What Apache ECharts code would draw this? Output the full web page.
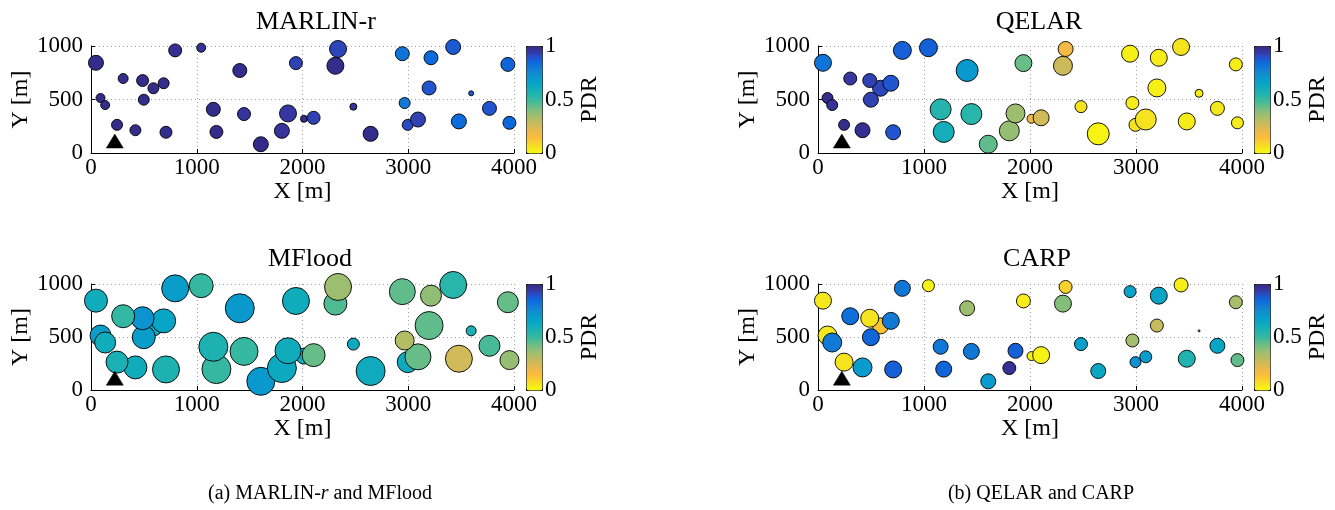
<!DOCTYPE html>
<html>
<head>
<meta charset="utf-8">
<script src="https://cdn.jsdelivr.net/npm/echarts@6/dist/echarts.min.js"></script>
<style>
html,body{margin:0;padding:0;background:#fff;}
#c{width:1335px;height:510px;}
</style>
</head>
<body>
<div id="c"></div>
<script>
// Node positions (m)
const nodeX = [1606,2644,709,1186,1805,420,246,2995,3957,3479,3092,2014,2105,1447,1863,1157,3768,2481,90,134,2966,590,499,3595,3197,687,488,304,1407,2311,3942,1938,47,3215,2944,796,2336,1042,3425];
const nodeY = [82,179,194,197,207,213,263,263,282,295,313,320,329,364,370,408,417,433,514,448,467,605,498,558,608,652,677,696,771,815,828,840,843,890,928,959,972,984,991];
// Marker sizes (px) and PDR per protocol
const marlinSize = [15,15,12,13,15,11,11,11,13,15,15,7,13,13,17,14,14,7,9,9,11,11,11,5,14,11,12,10,14,17,14,13,15,14,14,13,17,9,15];
const marlinPDR  = [1.00,0.99,0.99,0.99,0.96,0.99,0.99,0.91,0.85,0.84,0.93,0.99,0.93,0.96,0.95,0.99,0.89,0.96,0.99,0.99,0.80,0.99,0.99,0.88,0.89,0.99,0.99,0.99,0.99,0.99,0.86,0.93,0.99,0.85,0.82,0.98,0.92,0.97,0.88];
const mfloodSize = [28,29,27,29,29,23,22,21,19,27,26,16,23,28,26,29,21,12,21,21,19,20,23,10,28,24,23,23,29,23,21,27,23,21,26,27,27,24,27];
const mfloodPDR  = [0.70,0.62,0.57,0.51,0.63,0.61,0.58,0.62,0.37,0.26,0.44,0.61,0.44,0.51,0.61,0.57,0.48,0.63,0.68,0.61,0.32,0.61,0.68,0.58,0.45,0.65,0.72,0.51,0.70,0.47,0.44,0.61,0.61,0.38,0.45,0.68,0.36,0.51,0.54];
const qelarSize  = [18,22,15,21,20,15,11,13,12,17,21,9,16,21,19,21,14,12,11,11,13,16,15,8,18,16,14,13,22,19,13,17,17,17,17,18,15,18,17];
const qelarPDR   = [0.45,0.02,0.89,0.60,0.37,0.98,0.99,0.06,0.04,0.04,0.06,0.18,0.26,0.54,0.36,0.55,0.05,0.06,0.99,0.97,0.04,0.92,0.93,0.04,0.03,0.89,0.93,0.95,0.70,0.27,0.04,0.44,0.82,0.04,0.03,0.87,0.18,0.87,0.06];
const carpSize   = [15,15,17,16,13,19,18,11,13,17,12,9,17,16,15,15,15,13,19,19,13,16,17,2,13,17,18,17,15,17,13,14,17,17,12,16,13,12,14];
const carpPDR    = [0.69,0.64,0.87,0.86,0.97,0.69,0.06,0.73,0.45,0.56,0.69,0.04,0.02,0.81,0.87,0.81,0.65,0.67,0.05,0.80,0.35,0.13,0.86,0.50,0.28,0.80,0.06,0.83,0.36,0.40,0.34,0.04,0.05,0.66,0.66,0.81,0.10,0.02,0.03];
// Sink position
const sink = [225, 112];
const panelTitles = ['MARLIN-r','MFlood','QELAR','CARP'];
const xTicks = {min:0, max:4000, interval:1000};
const yTicks = {min:0, max:1000, interval:500};
const pdrTicks = {min:0, max:1, interval:0.5};

// Reversed parula (PDR 0 -> yellow, PDR 1 -> dark blue), step 0.05
const parulaRev = ['#f9fb0e','#f5e81c','#f8d12c','#fcbc3c','#ecb94a','#d6b955','#bdbc62','#a3be6c','#83be7b','#60bd8b','#38b99e','#24b4ad','#14adb9','#07a6c6','#0a99cd','#118bd2','#127ad6','#0a6adc','#2650cc','#3637a0','#352a87'];

const FONT = 'Liberation Serif';
const plain = (v)=>String(v);
const sizes = [marlinSize, mfloodSize, qelarSize, carpSize];
const pdrs = [marlinPDR, mfloodPDR, qelarPDR, carpPDR];
const panels = [
  {left:91, top:46, width:423, height:107, tx:311, ty:4},
  {left:91, top:284, width:423, height:106, tx:305, ty:241},
  {left:818, top:46, width:424, height:107, tx:1034, ty:4},
  {left:818, top:284, width:424, height:106, tx:1032, ty:241}
];

const grid=[], xAxis=[], yAxis=[], series=[], visualMap=[], title=[];
panels.forEach((p,i)=>{
  grid.push({left:p.left, top:p.top, width:p.width, height:p.height, containLabel:false});
  xAxis.push({type:'value', gridIndex:grid.length-1, min:xTicks.min, max:xTicks.max, interval:xTicks.interval,
    axisLine:{show:true, onZero:false, lineStyle:{color:'#000', width:1}},
    axisTick:{show:true, inside:true, length:4, lineStyle:{color:'#000'}},
    axisLabel:{fontFamily:FONT, fontSize:23, color:'#000', margin:3, formatter:plain},
    splitLine:{show:true, lineStyle:{color:'#a0a0a0', type:[1,3], width:1}},
    name:'X [m]', nameLocation:'middle', nameGap:24, nameTextStyle:{fontFamily:FONT, fontSize:24, color:'#000'}});
  yAxis.push({type:'value', gridIndex:grid.length-1, min:yTicks.min, max:yTicks.max, interval:yTicks.interval,
    axisLine:{show:true, onZero:false, lineStyle:{color:'#000', width:1}},
    axisTick:{show:true, inside:true, length:4, lineStyle:{color:'#000'}},
    axisLabel:{fontFamily:FONT, fontSize:23, color:'#000', margin:8, formatter:plain},
    splitLine:{show:true, lineStyle:{color:'#a0a0a0', type:[1,3], width:1}},
    name:'Y [m]', nameLocation:'middle', nameGap:57, nameTextStyle:{fontFamily:FONT, fontSize:24, color:'#000'}});
  const gi = grid.length-1;
  const data = nodeX.map((x,k)=>[x, nodeY[k], sizes[i][k], pdrs[i][k]]);
  series.push({type:'scatter', xAxisIndex:gi, yAxisIndex:gi, data:data,
    symbolSize:(v)=>v[2],
    itemStyle:{borderColor:'#000', borderWidth:0.9, opacity:1},
    emphasis:{disabled:true}, z:2});
  const nodeSeries = series.length-1;
  series.push({type:'scatter', xAxisIndex:gi, yAxisIndex:gi, data:[sink], symbol:'triangle', symbolSize:[17,14],
    itemStyle:{color:'#000', borderColor:'#000', borderWidth:0.5, opacity:1}, emphasis:{disabled:true}, z:3});
  title.push({text:panelTitles[i], left:p.tx, top:p.ty, textAlign:'center',
    textStyle:{fontFamily:FONT, fontSize:26, fontWeight:'normal', color:'#000'}});
  // colorbar
  const cbLeft = p.left + p.width + 12;
  visualMap.push({type:'continuous', seriesIndex:nodeSeries, dimension:3, min:pdrTicks.min, max:pdrTicks.max,
    calculable:false, realtime:false, text:null,
    left:cbLeft, top:p.top, itemWidth:16, itemHeight:p.height, padding:0,
    borderColor:'#000', borderWidth:1,
    inRange:{color:parulaRev}});
  grid.push({left:cbLeft, top:p.top, width:16, height:p.height, containLabel:false});
  xAxis.push({type:'value', gridIndex:grid.length-1, show:false, min:0, max:1});
  yAxis.push({type:'value', gridIndex:grid.length-1, position:'right', min:pdrTicks.min, max:pdrTicks.max, interval:pdrTicks.interval,
    axisLine:{show:false}, axisTick:{show:false}, splitLine:{show:false},
    axisLabel:{fontFamily:FONT, fontSize:23, color:'#000', margin:3, formatter:plain},
    name:'PDR', nameLocation:'middle', nameRotate:90, nameGap:33, nameTextStyle:{fontFamily:FONT, fontSize:24, color:'#000'}});
});

title.push({text:'(a) MARLIN-{i|r} and MFlood', left:315, top:479, textAlign:'center',
  textStyle:{fontFamily:FONT, fontSize:20, fontWeight:'normal', color:'#000', rich:{i:{fontFamily:FONT, fontSize:20, fontStyle:'italic', color:'#000'}}}});
title.push({text:'(b) QELAR and CARP', left:1036, top:479, textAlign:'center',
  textStyle:{fontFamily:FONT, fontSize:20, fontWeight:'normal', color:'#000'}});

const chart = echarts.init(document.getElementById('c'), null, {renderer:'canvas'});
chart.setOption({animation:false, backgroundColor:'#fff', title, grid, xAxis, yAxis, series, visualMap});
</script>
</body>
</html>
